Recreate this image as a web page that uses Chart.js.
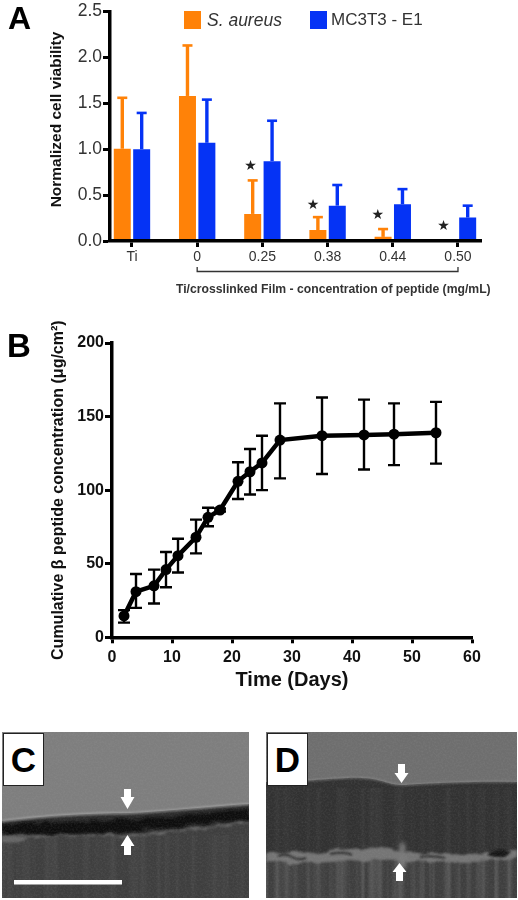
<!DOCTYPE html>
<html>
<head>
<meta charset="utf-8">
<title>Cell viability and peptide release</title>
<script src="https://cdn.jsdelivr.net/npm/chart.js@4"></script>
<style>
  html, body { margin: 0; background: #fff; }
  body { position: relative; width: 518px; height: 900px; overflow: hidden; font-family: "Liberation Sans", sans-serif; }
  canvas, .txt, .swatch, svg { position: absolute; }
  canvas, .swatch, .txt, svg { filter: blur(0.55px); }
  .panel { position: absolute; font-weight: bold; color: #000; line-height: 1; filter: blur(0.4px); }
  .tag { position: absolute; top: 733px; width: 39px; height: 51px; background: #fff; border: 1.5px solid #222;
         font-weight: bold; font-size: 35px; text-align: center; line-height: 52px; color: #000; }
  .swatch { top: 11px; width: 17px; height: 18px; }
  .txt { white-space: nowrap; color: #333; }
</style>
</head>
<body>
<canvas id="chartA" width="518" height="300" style="left:0;top:0"></canvas>
<canvas id="chartB" width="518" height="380" style="left:0;top:320px"></canvas>

<div class="panel" style="left:8px;top:2px;font-size:32px">A</div>
<div class="panel" style="left:7px;top:329px;font-size:33px">B</div>

<div class="swatch" style="left:184px;background:#ff8208"></div>
<div class="txt" style="left:207px;top:10px;font-size:17.5px;font-style:italic">S. aureus</div>
<div class="swatch" style="left:310px;background:#0533f5"></div>
<div class="txt" style="left:331px;top:10px;font-size:17px">MC3T3 - E1</div>
<div class="txt" style="left:176px;top:282px;font-size:12.2px;font-weight:bold">Ti/crosslinked Film - concentration of peptide (mg/mL)</div>

<!-- micrographs C and D -->
<svg width="518" height="170" viewBox="0 730 518 170" style="left:0;top:730px">
  <defs>
    <filter id="soft" x="-10%" y="-50%" width="120%" height="200%"><feGaussianBlur stdDeviation="1"/></filter>
    <filter id="softer" x="-50%" y="-50%" width="200%" height="200%"><feGaussianBlur stdDeviation="2"/></filter>
    <filter id="rough" x="-5%" y="-60%" width="110%" height="220%">
      <feTurbulence type="fractalNoise" baseFrequency="0.07 0.2" numOctaves="2" seed="4" result="n"/>
      <feDisplacementMap in="SourceGraphic" in2="n" scale="7" xChannelSelector="R" yChannelSelector="G"/>
      <feGaussianBlur stdDeviation="0.8"/>
    </filter>
    <filter id="grain" x="0" y="0" width="100%" height="100%">
      <feTurbulence type="fractalNoise" baseFrequency="0.55" numOctaves="2" seed="7"/>
      <feColorMatrix values="0 0 0 0 .5  0 0 0 0 .5  0 0 0 0 .5  1.2 0 0 0 -.45"/>
    </filter>
    <filter id="vstreak" x="0" y="0" width="100%" height="100%">
      <feTurbulence type="fractalNoise" baseFrequency="0.16 0.002" numOctaves="2" seed="11"/>
      <feColorMatrix values="0 0 0 0 .55  0 0 0 0 .55  0 0 0 0 .55  1.6 0 0 0 -.62"/>
    </filter>
    <clipPath id="clipC"><rect x="2" y="732" width="247" height="166"/></clipPath>
    <clipPath id="clipD"><rect x="266" y="732" width="251" height="166"/></clipPath>
  </defs>

  <g clip-path="url(#clipC)">
    <rect x="2" y="732" width="247" height="166" fill="#7e7e7e"/>
    <path d="M2 821 C50 815 100 813 125 813 S200 807 249 804 V898 H2Z" fill="#3e3e3e"/>
    <rect x="2" y="835" width="247" height="63" filter="url(#vstreak)" opacity=".1"/>
    <path d="M2 822 C50 817 100 816 130 815 S200 809 249 806 V822 C200 826 170 830 130 833 S50 837 2 836Z" fill="#2c2c2c" filter="url(#soft)"/>
    <path d="M2 825 C50 823 90 821 130 819 S200 813 249 809 V820 C200 823 170 828 130 831 S50 835 2 834Z" fill="#111" filter="url(#rough)"/>
    <path d="M2 837 C30 835 60 838 100 835 C115 834 120 838 135 836 S190 830 249 822" fill="none" stroke="#6c6c6c" stroke-width="1.6" filter="url(#rough)"/>
    <path d="M2 821 C50 815 100 813 125 813 S200 807 249 804" fill="none" stroke="#adadad" stroke-width="1.3" filter="url(#soft)"/>
    <path d="M2 838 Q15 834 28 838 L20 842 Q8 843 2 842Z" fill="#666" filter="url(#soft)"/>
    <rect x="2" y="732" width="247" height="166" filter="url(#grain)" opacity=".18"/>
    <rect x="14" y="880" width="108" height="4.5" fill="#fff"/>
    <path d="M124 789 H131 V797 H134.5 L127.5 809 L120.5 797 H124Z" fill="#fff"/>
    <path d="M124 855 H131 V846 H134.5 L127.5 835 L120.5 846 H124Z" fill="#fff"/>
  </g>

  <g clip-path="url(#clipD)">
    <rect x="266" y="732" width="251" height="166" fill="#6e6e6e"/>
    <path d="M266 782 C310 782 340 777 362 778 S390 786 405 785 S470 781 517 782 V898 H266Z" fill="#313131"/>
    <rect x="266" y="788" width="251" height="70" filter="url(#vstreak)" opacity=".08"/>
    <rect x="266" y="856" width="251" height="42" fill="#3e3e3e"/>
    <rect x="266" y="856" width="251" height="42" filter="url(#vstreak)" opacity=".3"/>
    <path d="M266 851 C300 856 330 850 360 848 S400 853 440 854 S490 852 517 850 V858 C480 862 440 862 400 860 S310 866 266 862Z" fill="#757575" filter="url(#rough)"/>
    <path d="M278 856 Q285 853 292 857 T306 858 M330 854 Q345 851 352 855 M420 857 Q432 855 445 858" fill="none" stroke="#2a2a2a" stroke-width="2" filter="url(#soft)"/>
    <path d="M400 843 L405 843 L406 868 L398 868Z" fill="#7a7a7a" filter="url(#softer)"/>
    <path d="M487 855 Q497 846 511 852 L505 857 Q495 858 487 855Z" fill="#161616" filter="url(#soft)"/>
    <path d="M266 782 C310 782 340 777 362 778 S390 786 405 785 S470 781 517 782" fill="none" stroke="#989898" stroke-width="1" filter="url(#soft)"/>
    <rect x="266" y="732" width="251" height="166" filter="url(#grain)" opacity=".18"/>
    <path d="M398 764 H405 V773 H408.5 L401.5 783 L394.5 773 H398Z" fill="#fff"/>
    <path d="M396 881 H403 V872 H406.5 L399.5 863 L392.5 872 H396Z" fill="#fff"/>
  </g>
</svg>
<div class="tag" style="left:3px">C</div>
<div class="tag" style="left:267px">D</div>

<script>
// Panel A - viability
const groupLabels = ["Ti", "0", "0.25", "0.38", "0.44", "0.50"];
const staphValues = [1.005, 1.58, 0.295, 0.12, 0.045, 0.01];
const staphErrTop = [1.56, 2.13, 0.66, 0.26, 0.13, null];
const cellValues  = [1.0, 1.07, 0.87, 0.385, 0.40, 0.255];
const cellErrTop  = [1.395, 1.54, 1.31, 0.61, 0.565, 0.385];
const starGroups  = [1.82, 2.776, 3.77, 4.78];
const starHeights = [0.81, 0.39, 0.277, 0.162];

// Panel B - release
const days      = [2, 4, 7, 9, 11, 14, 16, 18, 21, 23, 25, 28, 35, 42, 47, 54];
const released  = [14.5, 31, 35, 46, 55.5, 68, 81.5, 86.5, 106, 112.5, 118.5, 134, 137, 137.5, 138, 139];
const errUpper  = [18.5, 43, 46, 58, 67, 80, 88, 87.5, 119, 128, 137, 159, 163, 161.5, 159, 160];
const errLower  = [10, 20, 23, 34, 44, 57, 75.5, 85.5, 94, 97, 100, 108, 111, 114, 117, 118];

const ORANGE = "#ff8208", BLUE = "#0533f5";
const SANS = "'Liberation Sans', sans-serif";

Chart.defaults.animation = false;
Chart.defaults.responsive = false;
Chart.defaults.font.family = SANS;

// error bars on A, only the upper arm
const barErrors = {
  id: "barErrors",
  afterDatasetsDraw(chart) {
    const ctx = chart.ctx, y = chart.scales.y;
    [staphErrTop, cellErrTop].forEach((tops, d) => {
      const color = chart.data.datasets[d].backgroundColor;
      chart.getDatasetMeta(d).data.forEach((bar, i) => {
        if (tops[i] == null) return;
        const py = y.getPixelForValue(tops[i]);
        ctx.save();
        ctx.strokeStyle = color;
        ctx.lineWidth = 3.4;
        ctx.beginPath();
        ctx.moveTo(bar.x, bar.y);
        ctx.lineTo(bar.x, py);
        ctx.stroke();
        ctx.lineWidth = 2.6;
        ctx.beginPath();
        ctx.moveTo(bar.x - 5, py);
        ctx.lineTo(bar.x + 5, py);
        ctx.stroke();
        ctx.restore();
      });
    });
  }
};

// stars, y title and the bracket under the film groups
const annotations = {
  id: "annotations",
  afterDraw(chart) {
    const ctx = chart.ctx, x = chart.scales.x, y = chart.scales.y;
    ctx.save();
    ctx.fillStyle = "#222";
    ctx.font = "14px 'DejaVu Sans'";
    ctx.textAlign = "center";
    ctx.textBaseline = "middle";
    starGroups.forEach((g, i) => {
      ctx.fillText("\u2605", x.getPixelForValue(g), y.getPixelForValue(starHeights[i]));
    });

    ctx.save();
    ctx.translate(57, 119.5);
    ctx.rotate(-Math.PI / 2);
    ctx.fillStyle = "#111";
    ctx.font = "bold 15.5px " + SANS;
    ctx.fillText("Normalized cell viability", 0, 0);
    ctx.restore();

    const l = x.getPixelForValue(1), r = x.getPixelForValue(5);
    ctx.strokeStyle = "#333";
    ctx.lineWidth = 1.3;
    ctx.beginPath();
    ctx.moveTo(l, 267);
    ctx.lineTo(l, 271.5);
    ctx.lineTo(r, 271.5);
    ctx.lineTo(r, 267);
    ctx.stroke();
    ctx.restore();
  }
};

new Chart(document.getElementById("chartA").getContext("2d"), {
  type: "bar",
  data: {
    datasets: [
      { label: "S. aureus", data: staphValues.map((v, i) => ({ x: i, y: v })), backgroundColor: ORANGE,
        categoryPercentage: 0.595, barPercentage: 0.876 },
      { label: "MC3T3 - E1", data: cellValues.map((v, i) => ({ x: i, y: v })), backgroundColor: BLUE,
        categoryPercentage: 0.595, barPercentage: 0.876 }
    ]
  },
  options: {
    layout: { padding: { top: 9, right: 37, left: 0, bottom: 0 } },
    plugins: { legend: { display: false }, tooltip: { enabled: false } },
    scales: {
      x: {
        type: "linear", offset: false, min: -0.337, max: 5.353,
        afterBuildTicks: s => { s.ticks = groupLabels.map((_, i) => ({ value: i })); },
        afterFit: s => { s.height = 59; },
        border: { color: "#000", width: 3.5, z: 1 },
        grid: { offset: false, drawOnChartArea: false, tickLength: 6, tickWidth: 3, tickColor: "#000" },
        ticks: { callback: v => groupLabels[v], color: "#333", font: { size: 14 }, padding: 2, maxRotation: 0, autoSkip: false }
      },
      y: {
        min: 0, max: 2.5,
        afterFit: s => { s.width = 110; },
        border: { color: "#000", width: 3.5, z: 1 },
        grid: { drawOnChartArea: false, tickLength: 7, tickWidth: 3, tickColor: "#000" },
        ticks: { stepSize: 0.5, callback: v => v.toFixed(1), color: "#333", font: { size: 17.5 }, padding: 1 }
      }
    }
  },
  plugins: [barErrors, annotations]
});

// error bars on B
const lineErrors = {
  id: "lineErrors",
  afterDatasetsDraw(chart) {
    const ctx = chart.ctx, x = chart.scales.x, y = chart.scales.y;
    ctx.save();
    ctx.strokeStyle = "#000";
    ctx.lineWidth = 2.4;
    days.forEach((d, i) => {
      const px = x.getPixelForValue(d), up = y.getPixelForValue(errUpper[i]), lo = y.getPixelForValue(errLower[i]);
      ctx.beginPath();
      ctx.moveTo(px, up); ctx.lineTo(px, lo);
      ctx.moveTo(px - 6, up); ctx.lineTo(px + 6, up);
      ctx.moveTo(px - 6, lo); ctx.lineTo(px + 6, lo);
      ctx.stroke();
    });
    ctx.restore();
  }
};

new Chart(document.getElementById("chartB").getContext("2d"), {
  type: "line",
  data: {
    datasets: [{
      data: days.map((d, i) => ({ x: d, y: released[i] })),
      borderColor: "#000", backgroundColor: "#000", borderWidth: 4.5,
      pointRadius: 5.5, pointBackgroundColor: "#000", pointBorderWidth: 0, tension: 0
    }]
  },
  options: {
    layout: { padding: { top: 23, right: 46, left: 0, bottom: 8 } },
    plugins: { legend: { display: false }, tooltip: { enabled: false } },
    scales: {
      x: {
        type: "linear", min: 0, max: 60,
        afterFit: s => { s.height = 54.7; },
        border: { color: "#000", width: 3.5 },
        grid: { drawOnChartArea: false, tickLength: 6, tickWidth: 3, tickColor: "#000" },
        ticks: { stepSize: 10, color: "#111", font: { size: 16, weight: "bold" }, padding: 5, maxRotation: 0 },
        title: { display: true, text: "Time (Days)", color: "#111", font: { size: 20, weight: "bold" }, padding: { top: 0, bottom: 0 } }
      },
      y: {
        min: 0, max: 200,
        afterFit: s => { s.width = 112; },
        border: { color: "#000", width: 3.5 },
        grid: { drawOnChartArea: false, tickLength: 7, tickWidth: 3, tickColor: "#000" },
        ticks: { stepSize: 50, color: "#111", font: { size: 16, weight: "bold" }, padding: 1 },
        title: { display: true, text: "Cumulative \u03b2 peptide concentration (\u03bcg/cm\u00b2)", color: "#111", font: { size: 16, weight: "bold" }, padding: { top: 49, bottom: 0 } }
      }
    }
  },
  plugins: [lineErrors]
});
</script>
</body>
</html>
